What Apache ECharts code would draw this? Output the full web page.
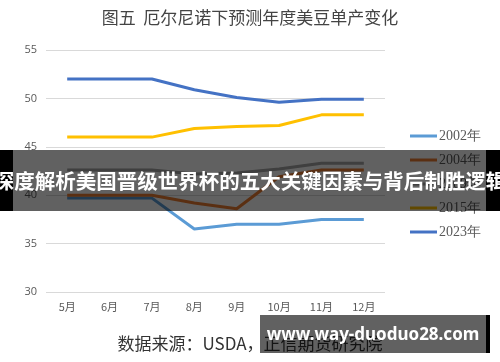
<!DOCTYPE html>
<html>
<head>
<meta charset="utf-8">
<script src="https://cdn.jsdelivr.net/npm/echarts@6/dist/echarts.min.js"></script>
<style>html,body{margin:0;padding:0;background:#fff}#c{width:500px;height:362px}</style>
</head>
<body>
<div id="c"></div>
<script>
var categories = ['5月','6月','7月','8月','9月','10月','11月','12月'];
var seriesNames = ['2002年','2004年','2009年','2015年','2023年'];
var y2002 = [39.7, 39.7, 39.7, 36.5, 37.0, 37.0, 37.5, 37.5];
var y2004 = [40.0, 40.0, 40.0, 39.2, 38.6, 41.9, 42.6, 42.6];
var y2009 = [42.6, 42.6, 42.6, 42.2, 42.3, 42.7, 43.3, 43.3];
var y2015 = [46.0, 46.0, 46.0, 46.9, 47.1, 47.2, 48.3, 48.3];
var y2023 = [52.0, 52.0, 52.0, 50.9, 50.1, 49.6, 49.9, 49.9];
var yTicks = [30, 35, 40, 45, 50, 55];

var colors = ['#5B9BD5','#ED7D31','#A5A5A5','#FFC000','#4472C4'];
var allData = [y2002, y2004, y2009, y2015, y2023];
var chart = echarts.init(document.getElementById('c'));
var cjk = '"Noto Sans CJK SC", sans-serif';
chart.setOption({
  animation: false,
  title: {
    text: '图五  厄尔尼诺下预测年度美豆单产变化',
    left: 'center', top: 4,
    textStyle: {fontFamily: cjk, fontSize: 17, fontWeight: 'normal', color: '#444'}
  },
  legend: {
    orient: 'vertical', left: 405, top: 124,
    itemWidth: 27, itemHeight: 3, itemGap: 10, icon: 'rect',
    textStyle: {fontFamily: '"Liberation Serif", serif', fontSize: 14, lineHeight: 14, color: '#595959', padding: [0,0,0,-3]},
    data: seriesNames
  },
  grid: {left: 46, right: 115, top: 50, bottom: 70},
  xAxis: {
    type: 'category', data: categories, boundaryGap: true,
    axisLine: {show: false}, axisTick: {show: false},
    axisLabel: {fontFamily: cjk, fontSize: 11, color: '#595959', margin: 9}
  },
  yAxis: {
    type: 'value', min: yTicks[0], max: yTicks[yTicks.length-1], interval: 5,
    axisLine: {show: false}, axisTick: {show: false},
    axisLabel: {fontFamily: '"Open Sans", sans-serif', fontSize: 11, color: '#595959', margin: 9},
    splitLine: {lineStyle: {color: '#d9d9d9', width: 1}}
  },
  series: seriesNames.map(function(n, i){
    return {name: n, type: 'line', data: allData[i], symbol: 'none',
      lineStyle: {width: 3, color: colors[i]}, itemStyle: {color: colors[i]}, z: 2 + i};
  }),
  graphic: [
    {type: 'text', left: 'center', top: 335, style: {text: '数据来源：USDA，正信期货研究院', font: '17px "Noto Sans CJK SC"', fill: '#333'}, z: 10},
    {type: 'rect', shape: {x: 13, y: 150, width: 473, height: 61}, style: {fill: 'rgba(0,0,0,0.62)'}, z: 100},
    {type: 'rect', shape: {x: 0, y: 150, width: 13, height: 61}, style: {fill: '#000'}, z: 100},
    {type: 'rect', shape: {x: 486, y: 150, width: 14, height: 61}, style: {fill: '#000'}, z: 100},
    {type: 'text', x: 250, y: 181, style: {text: '深度解析美国晋级世界杯的五大关键因素与背后制胜逻辑', font: 'bold 20.5px "Noto Sans CJK SC"', fill: '#fff', align: 'center', verticalAlign: 'middle'}, z: 101},
    {type: 'rect', shape: {x: 260, y: 315, width: 226, height: 38}, style: {fill: 'rgba(0,0,0,0.62)'}, z: 100},
    {type: 'rect', shape: {x: 486, y: 315, width: 4, height: 38}, style: {fill: '#000'}, z: 100},
    {type: 'text', x: 373, y: 335, style: {text: 'www.way-duoduo28.com', font: 'bold 17px "Noto Sans"', fill: '#fff', align: 'center', verticalAlign: 'middle'}, z: 101}
  ]
});
</script>
</body>
</html>
